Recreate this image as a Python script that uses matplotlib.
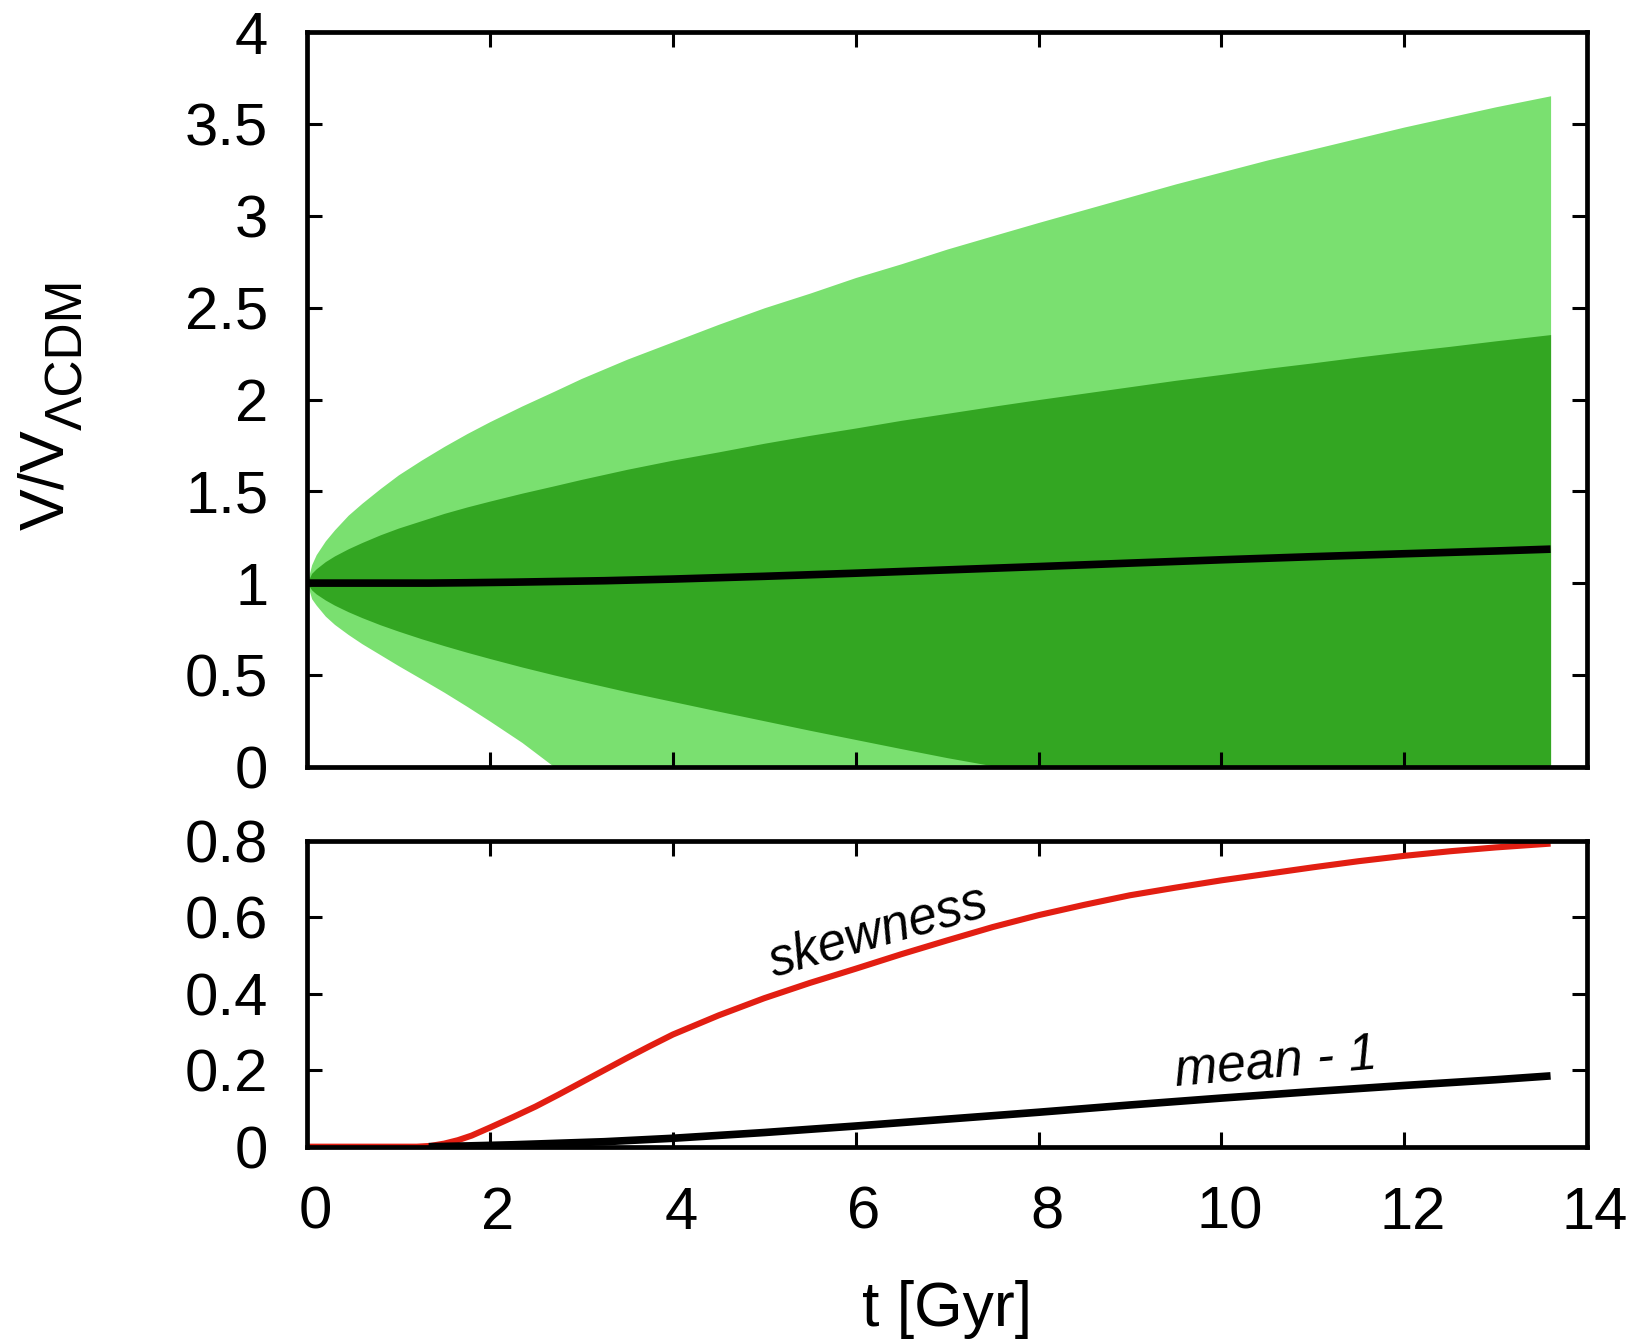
import numpy as np
import matplotlib.pyplot as plt
from matplotlib.ticker import MultipleLocator, FormatStrFormatter
from matplotlib.transforms import ScaledTranslation

plt.rcParams["font.family"] = ["Liberation Sans", "DejaVu Sans"]

# time grid [Gyr] for the volume spread bands
t = [0, 0.05, 0.1, 0.2, 0.3, 0.45, 0.6, 0.8, 1.0, 1.25, 1.5, 1.75, 2, 2.35, 2.7, 3, 3.5, 4,
     4.5, 5, 5.5, 6, 6.5, 7, 7.55, 8, 8.5, 9, 9.5, 10, 10.5, 11, 11.5, 12, 12.5, 13, 13.6]
outer_hi = [1.0, 1.10, 1.155, 1.23, 1.29, 1.37, 1.435, 1.515, 1.59, 1.67, 1.745, 1.815, 1.88,
            1.965, 2.045, 2.115, 2.22, 2.315, 2.41, 2.50, 2.58, 2.665, 2.74, 2.82, 2.90, 2.965,
            3.035, 3.105, 3.175, 3.24, 3.305, 3.365, 3.425, 3.485, 3.54, 3.595, 3.655]
outer_lo = [1.0, 0.915, 0.88, 0.82, 0.775, 0.72, 0.67, 0.61, 0.55, 0.478, 0.405, 0.328, 0.248,
            0.132, 0.0, 0.0, 0.0, 0.0, 0.0, 0.0, 0.0, 0.0, 0.0, 0.0, 0.0, 0.0,
            0.0, 0.0, 0.0, 0.0, 0.0, 0.0, 0.0, 0.0, 0.0, 0.0, 0.0]
inner_hi = [1.0, 1.053, 1.078, 1.117, 1.148, 1.187, 1.221, 1.263, 1.30, 1.34, 1.38, 1.415, 1.447,
            1.49, 1.53, 1.565, 1.62, 1.67, 1.715, 1.762, 1.805, 1.845, 1.887, 1.925, 1.967, 2.0,
            2.035, 2.07, 2.105, 2.137, 2.17, 2.2, 2.232, 2.262, 2.29, 2.32, 2.354]
inner_lo = [1.0, 0.963, 0.941, 0.908, 0.88, 0.844, 0.812, 0.773, 0.738, 0.697, 0.659, 0.623, 0.589,
            0.543, 0.50, 0.465, 0.408, 0.355, 0.302, 0.25, 0.198, 0.148, 0.098, 0.049, 0.0, 0.0,
            0.0, 0.0, 0.0, 0.0, 0.0, 0.0, 0.0, 0.0, 0.0, 0.0, 0.0]

# mean - 1
t_mean = [0, 1.33, 1.75, 2.25, 2.75, 3.25, 4, 5, 6, 7, 8, 9, 10, 11, 12, 13, 13.6]
mean_excess = [0.0, 0.0, 0.002, 0.005, 0.009, 0.013, 0.022, 0.037, 0.054, 0.072, 0.09, 0.109,
               0.127, 0.144, 0.16, 0.175, 0.185]

# skewness
t_skew = [0, 1.2, 1.35, 1.5, 1.65, 1.8, 2.0, 2.25, 2.5, 2.75, 3.0, 3.25, 3.5, 3.75, 4, 4.5, 5,
          5.5, 6, 6.5, 7, 7.5, 8, 8.5, 9, 9.5, 10, 10.5, 11, 11.5, 12, 12.5, 13, 13.6]
skewness = [0.0, 0.0, 0.002, 0.008, 0.017, 0.029, 0.05, 0.077, 0.105, 0.136, 0.168, 0.2, 0.232,
            0.263, 0.293, 0.343, 0.388, 0.428, 0.465, 0.503, 0.539, 0.574, 0.605, 0.632, 0.657,
            0.677, 0.696, 0.713, 0.73, 0.746, 0.76, 0.772, 0.782, 0.792]

fig = plt.figure(figsize=(16.42, 13.41), dpi=100)
ax1 = fig.add_axes([0.187, 0.4283, 0.7796, 0.5475])
ax2 = fig.add_axes([0.187, 0.1449, 0.7796, 0.2283])

ax1.fill_between(t, outer_lo, outer_hi, color="#7AE070", lw=0)
ax1.fill_between(t, inner_lo, inner_hi, color="#33A622", lw=0)
ax1.plot(t_mean, 1 + np.array(mean_excess), color="black", lw=5.5, solid_capstyle="butt")
ax1.set_ylim(0, 4)
ax1.yaxis.set_major_locator(MultipleLocator(0.5))
ax1.tick_params(labelbottom=False)

ax2.plot(t_skew, skewness, color="#E21E12", lw=4.4, solid_capstyle="butt")
ax2.plot(t_mean[1:], mean_excess[1:], color="black", lw=5.5, solid_capstyle="butt")
ax2.set_ylim(0, 0.8)
ax2.yaxis.set_major_locator(MultipleLocator(0.2))
ax2.text(6.29, 0.525, "skewness", rotation=16, rotation_mode="anchor", ha="center",
         va="baseline", style="italic", fontsize=37)
ax2.text(10.61, 0.183, "mean - 1", rotation=5, rotation_mode="anchor", ha="center",
         va="baseline", style="italic", fontsize=37)

for ax in (ax1, ax2):
    ax.set_xlim(0, 14)
    ax.xaxis.set_major_locator(MultipleLocator(2))
    ax.yaxis.set_major_formatter(FormatStrFormatter("%g"))
    ax.tick_params(direction="in", length=11, width=2.2, top=True, right=True,
                   labelsize=43, pad=28)
    for s in ax.spines.values():
        s.set_linewidth(3.4)
        s.set_zorder(5)

# x tick labels sit a little right of their ticks
shift = ScaledTranslation(8 / 100, 0, fig.dpi_scale_trans)
for lbl in ax2.get_xticklabels():
    lbl.set_transform(lbl.get_transform() + shift)

ax2.set_xlabel("t [Gyr]", fontsize=45)
ax2.xaxis.set_label_coords(0.5, -0.4355)

# y label with a lowered, smaller subscript
fig.text(63 / 1642, 1 - 530 / 1341, "V/V", rotation=90, rotation_mode="anchor",
         ha="left", va="baseline", fontsize=45)
fig.text(82 / 1642, 1 - 430 / 1341, "ΛCDM", rotation=90, rotation_mode="anchor",
         ha="left", va="baseline", fontsize=37)

fig.savefig("out.png", dpi=100)
